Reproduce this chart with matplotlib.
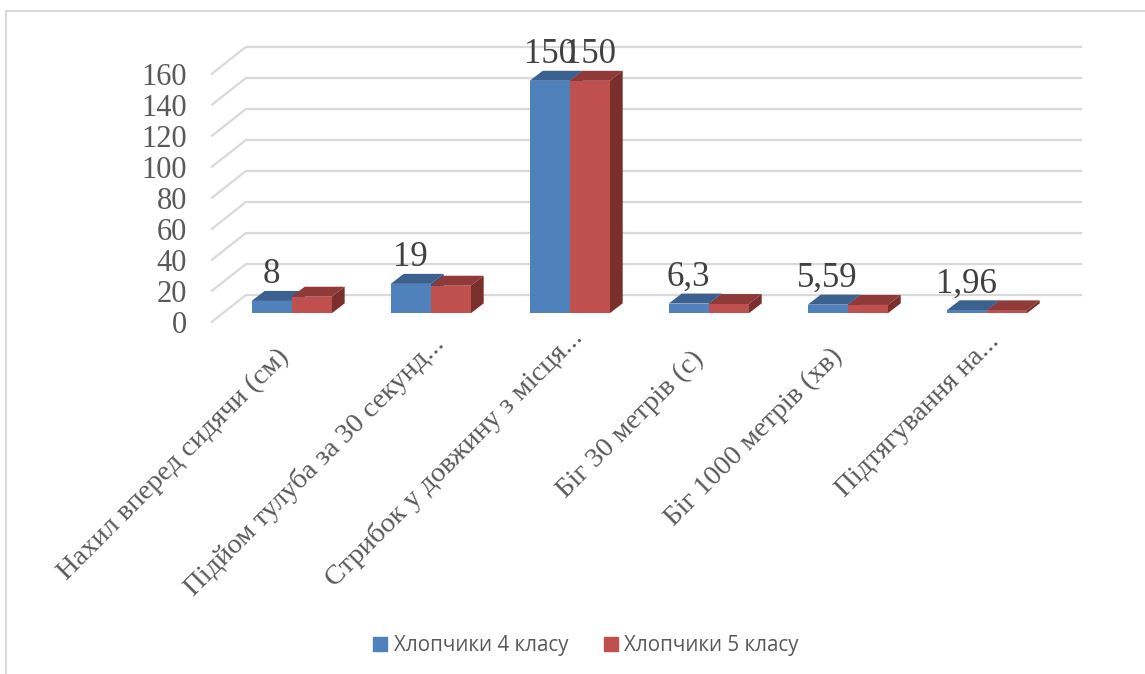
import matplotlib
matplotlib.use('Agg')
import matplotlib.pyplot as plt
from matplotlib.lines import Line2D
from matplotlib.patches import Polygon, Patch
from matplotlib.transforms import ScaledTranslation

categories = ['Нахил вперед сидячи (см)', 'Підйом тулуба за 30 секунд...',
              'Стрибок у довжину з місця...', 'Біг 30 метрів (с)',
              'Біг 1000 метрів (хв)', 'Підтягування на...']
grade4 = [8, 19, 150, 6.3, 5.59, 1.96]
grade5 = [10.7, 17.8, 150, 6, 5.4, 1.9]
grade4_labels = [8, 19, 150, 6.3, 5.59, 1.96]
grade5_labels = [None, None, 150, None, None, None]
yticks = [0, 20, 40, 60, 80, 100, 120, 140, 160]

W, H = 1145, 674
# axis scale of the plot box, in pixels per unit
PX_X = 139.0
PX_Y = 1.55
BAR_W = 40 / PX_X
DEPTH_X = 13 / PX_X
DEPTH_Y = 10 / PX_Y
FLOOR_FRONT = -5.4
FLOOR_BACK = 11.8
WALL_X = -0.329
GRID = '#d9d9d9'

fig = plt.figure(figsize=(W / 100, H / 100), dpi=100)
ax = fig.add_axes([212 / W, (H - 321.7) / H, 869 / W, 274.7 / H])
ax.set_xlim(-0.573, 5.678)
ax.set_ylim(FLOOR_FRONT, 171.8)
for side in ax.spines.values():
    side.set_visible(False)

# floor/wall gridlines
for v in yticks:
    ax.plot([ax.get_xlim()[0], WALL_X, ax.get_xlim()[1]],
            [v + FLOOR_FRONT, v + FLOOR_BACK, v + FLOOR_BACK],
            color=GRID, lw=1.6, zorder=1, solid_joinstyle='miter', clip_on=False)


def draw_bars(values, offset, front, top, side, z):
    for i, v in enumerate(values):
        x0 = i + offset
        x1 = x0 + BAR_W
        ax.bar(x0, v, BAR_W, align='edge', color=front, zorder=z + 0.2)
        ax.add_patch(Polygon([(x0, v), (x1, v), (x1 + DEPTH_X, v + DEPTH_Y), (x0 + DEPTH_X, v + DEPTH_Y)],
                             closed=True, fc=top, ec='none', zorder=z + 0.1))
        ax.add_patch(Polygon([(x1, 0), (x1 + DEPTH_X, DEPTH_Y), (x1 + DEPTH_X, v + DEPTH_Y), (x1, v)],
                             closed=True, fc=side, ec='none', zorder=z + 0.1))


draw_bars(grade4, -BAR_W, '#4f81bd', '#3d618f', '#345377', 2)
draw_bars(grade5, 0, '#c0504d', '#8f3a38', '#7a2f2d', 3)


def value_labels(values, heights, x_shift):
    for i, (lab, v) in enumerate(zip(values, heights)):
        if lab is None:
            continue
        ax.annotate(f'{lab:g}'.replace('.', ','), (i + x_shift, v), xytext=(0, 19),
                    textcoords='offset points', ha='center', va='center',
                    fontsize=25, family='Liberation Serif', color='#404040', zorder=6)


value_labels(grade4_labels, grade4, -BAR_W / 2)
value_labels(grade5_labels, grade5, BAR_W / 2)

ax.set_yticks([v + FLOOR_FRONT for v in yticks])
ax.set_yticklabels([str(v) for v in yticks], fontsize=22, family='Liberation Serif', color='#595959')
ax.set_xticks(range(len(categories)))
ax.set_xticklabels(categories, fontsize=20.5, family='Liberation Serif', color='#595959',
                   rotation=45, ha='right', va='top', rotation_mode='anchor')
ax.tick_params(axis='both', length=0)
ax.tick_params(axis='y', pad=18)
ax.tick_params(axis='x', pad=16)

# nudge the long category labels along x/y, values in pixels
label_nudge = [(-15, 0), (0, 13), (0, 19), (-18, -3), (-18, 0), (0, 15)]
for lab, (dx, dy) in zip(ax.get_xticklabels(), label_nudge):
    lab.set_transform(lab.get_transform() + ScaledTranslation(dx / 100, dy / 100, fig.dpi_scale_trans))

handles = [Patch(color='#4f81bd', label='Хлопчики 4 класу'), Patch(color='#c0504d', label='Хлопчики 5 класу')]
fig.legend(handles=handles, loc='center', bbox_to_anchor=(586 / W, 1 - 646 / H), ncol=2, frameon=False,
           prop={'family': 'Open Sans', 'size': 14.8}, labelcolor='#595959', handlelength=0.68, handleheight=0.68,
           handletextpad=0.3, columnspacing=1.75)

# chart frame
fig.add_artist(Line2D([6 / W, 6 / W, 1], [0, 1 - 11 / H, 1 - 11 / H], color=GRID, lw=1.5))

fig.savefig('out.png', dpi=100)
